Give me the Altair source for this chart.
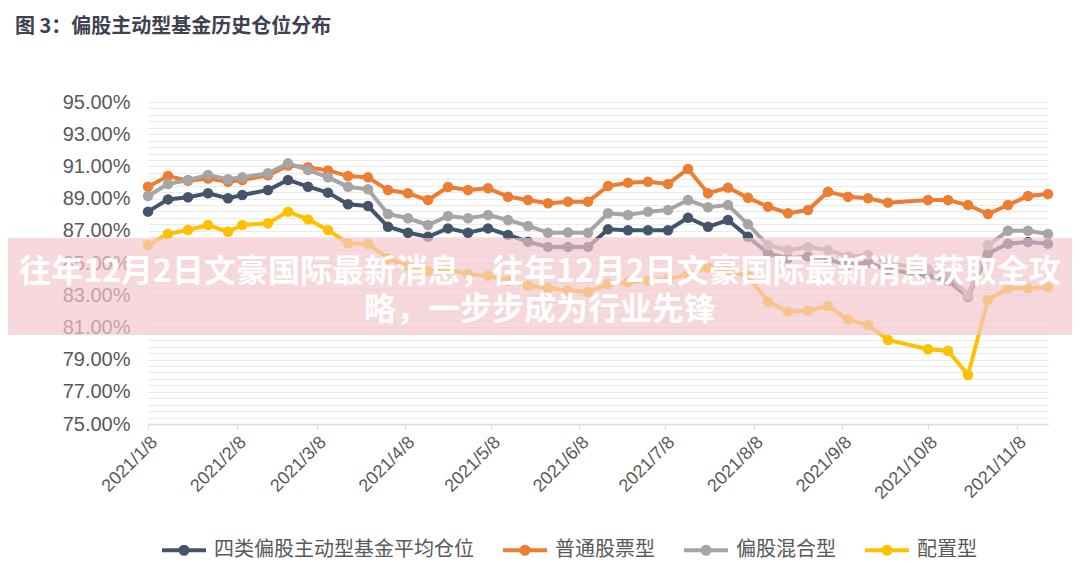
import altair as alt
import pandas as pd

# ---- data ----
dates = [
    "2021-01-08", "2021-01-15", "2021-01-22", "2021-01-29", "2021-02-05", "2021-02-10",
    "2021-02-19", "2021-02-26", "2021-03-05", "2021-03-12", "2021-03-19", "2021-03-26",
    "2021-04-02", "2021-04-09", "2021-04-16", "2021-04-23", "2021-04-30", "2021-05-07",
    "2021-05-14", "2021-05-21", "2021-05-28", "2021-06-04", "2021-06-11", "2021-06-18",
    "2021-06-25", "2021-07-02", "2021-07-09", "2021-07-16", "2021-07-23", "2021-07-30",
    "2021-08-06", "2021-08-13", "2021-08-20", "2021-08-27", "2021-09-03", "2021-09-10",
    "2021-09-17", "2021-09-24", "2021-10-08", "2021-10-15", "2021-10-22", "2021-10-29",
    "2021-11-05", "2021-11-12", "2021-11-19",
]
avg_all = [88.19, 88.95, 89.08, 89.33, 89.02, 89.22, 89.53, 90.16, 89.74, 89.37, 88.65, 88.54,
           87.25, 86.88, 86.63, 87.15, 86.88, 87.15, 86.74, 86.32, 86.00, 86.00, 86.00, 87.09,
           87.03, 87.03, 87.03, 87.81, 87.25, 87.67, 86.63, 85.60, 85.30, 85.40, 85.20, 84.90,
           85.00, 84.60, 84.20, 83.90, 82.90, 85.60, 86.20, 86.30, 86.20]
stock = [89.74, 90.40, 90.11, 90.25, 90.05, 90.16, 90.45, 91.05, 90.95, 90.75, 90.40, 90.32,
         89.53, 89.33, 88.91, 89.72, 89.53, 89.64, 89.12, 88.91, 88.71, 88.81, 88.81, 89.78,
         89.99, 90.05, 89.91, 90.84, 89.33, 89.68, 89.05, 88.50, 88.09, 88.29, 89.43, 89.12,
         89.02, 88.75, 88.91, 88.91, 88.60, 88.04, 88.60, 89.16, 89.29]
hybrid = [89.16, 89.91, 90.16, 90.47, 90.20, 90.32, 90.57, 91.19, 90.78, 90.32, 89.74, 89.58,
          88.04, 87.78, 87.36, 87.92, 87.78, 87.98, 87.67, 87.30, 86.88, 86.90, 86.88, 88.09,
          87.98, 88.19, 88.29, 88.91, 88.46, 88.60, 87.40, 86.10, 85.80, 86.00, 85.80, 85.40,
          85.50, 85.00, 84.60, 84.30, 83.00, 86.10, 87.00, 87.00, 86.80]
allocation = [86.12, 86.80, 87.05, 87.36, 86.94, 87.36, 87.47, 88.19, 87.71, 87.05, 86.22, 86.18,
              85.30, 84.80, 84.50, 84.60, 84.30, 84.20, 83.90, 83.60, 83.45, 83.30, 83.20, 83.70,
              83.80, 83.90, 84.00, 84.30, 84.70, 84.50, 84.20, 82.60, 81.98, 82.04, 82.33, 81.50,
              81.15, 80.22, 79.64, 79.55, 78.04, 82.70, 83.43, 83.43, 83.49]

series_names = ["四类偏股主动型基金平均仓位", "普通股票型", "偏股混合型", "配置型"]
series_values = [avg_all, stock, hybrid, allocation]
series_colors = ["#44546A", "#ED7D31", "#A5A5A5", "#FFC000"]

title_text = "图 3：偏股主动型基金历史仓位分布"
banner_lines = ["往年12月2日文豪国际最新消息，往年12月2日文豪国际最新消息获取全攻",
                "略，一步步成为行业先锋"]

rows = []
for si, (name, vals) in enumerate(zip(series_names, series_values)):
    for d, v in zip(dates, vals):
        rows.append({"date": d, "value": v, "series": name, "order": si})
df = pd.DataFrame(rows)

grid_vals = [round(75 + 0.4 * i, 1) for i in range(51)]
month_ticks = [alt.DateTime(year=2021, month=m, date=8, utc=True) for m in range(1, 12)]

W, H = 900, 322
LEFT, TOP = 140, 94

legend_path = "M-1,0L1,0M0.16,0A0.16,0.16,0,1,1,-0.16,0A0.16,0.16,0,1,1,0.16,0Z"

lines = alt.Chart(df).mark_line(
    strokeWidth=4,
    point=alt.OverlayMarkDef(filled=True, size=110, opacity=1),
).encode(
    x=alt.X("date:T",
            scale=alt.Scale(type="utc",
                            domain=[alt.DateTime(year=2021, month=1, date=8, utc=True),
                                    alt.DateTime(year=2021, month=11, date=19, utc=True)]),
            axis=alt.Axis(values=month_ticks,
                          labelExpr="utcFormat(datum.value, '%Y/%-m/%-d')",
                          labelAngle=-45, labelFontSize=18, labelColor="#595959",
                          labelFont="Liberation Sans", labelPadding=4,
                          tickSize=5, tickColor="#d9d9d9", domainColor="#d9d9d9",
                          domainWidth=1.5, grid=False, title=None, labelOverlap=False)),
    y=alt.Y("value:Q",
            scale=alt.Scale(domain=[75, 95], nice=False, zero=False),
            axis=alt.Axis(values=grid_vals,
                          labelExpr="(round(datum.value*10) - 750) % 20 == 0 ? format(datum.value, '.2f') + '%' : ''",
                          labelFontSize=20, labelColor="#595959", labelFont="Liberation Sans",
                          labelPadding=18, labelOverlap=False,
                          ticks=False, domain=False, grid=True,
                          gridColor="#ebebeb", gridWidth=1, title=None)),
    color=alt.Color("series:N",
                    scale=alt.Scale(domain=series_names, range=series_colors),
                    legend=alt.Legend(orient="none", legendX=12, legendY=424,
                                      direction="horizontal", title=None,
                                      symbolType=legend_path, symbolSize=1936,
                                      symbolStrokeWidth=4,
                                      labelFontSize=20, labelColor="#595959",
                                      labelFont="Noto Sans CJK SC", labelOffset=6,
                                      labelLimit=400, columnPadding=21)),
    detail="series:N",
    order="order:Q",
)

banner_df = pd.DataFrame({"k": [0]})
banner = alt.Chart(banner_df).mark_rect(color="#F3C6CD", opacity=0.68).encode(
    x=alt.value(-LEFT - 8), x2=alt.value(1080 - LEFT - 8),
    y=alt.value(136), y2=alt.value(233),
)

text_df = pd.DataFrame({"line": banner_lines, "ypos": [170, 208]})
banner_text = alt.Chart(text_df).mark_text(
    font="Noto Sans CJK SC", fontWeight="bold", fontSize=32, color="white",
    align="center", baseline="middle",
).encode(
    x=alt.value(540 - LEFT - 8),
    y=alt.Y("ypos:Q", scale=None),
    text="line:N",
)

title_df = pd.DataFrame({"t": [title_text]})
title = alt.Chart(title_df).mark_text(
    font="Noto Sans CJK SC", fontWeight="bold", fontSize=20, color="#404050",
    align="left", baseline="middle",
).encode(
    x=alt.value(15 - LEFT - 8), y=alt.value(27 - TOP - 8), text="t:N",
)

chart = alt.layer(lines, banner, banner_text, title).properties(
    width=W, height=H,
    autosize=alt.AutoSizeParams(type="none"),
    padding={"left": LEFT, "top": TOP, "right": 1072 - LEFT - W - 8, "bottom": 569 - TOP - H},
    background="white",
).configure_view(stroke=None)

chart.save("out.html", embed_options={"renderer": "svg", "actions": False})
